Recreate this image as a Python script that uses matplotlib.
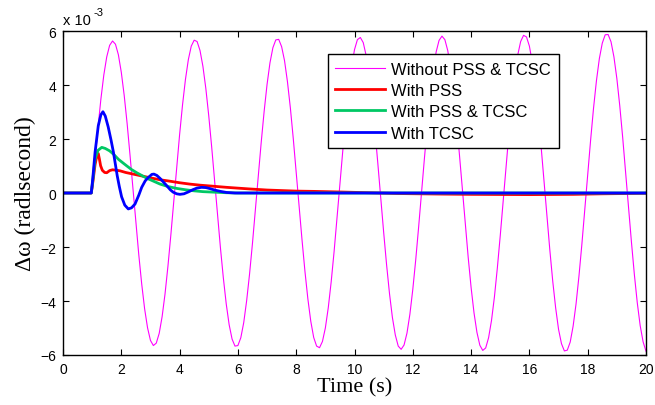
import matplotlib.pyplot as plt

'''
Speed deviation of the generator after a disturbance at t = 1 s
'''

# Without PSS & TCSC (sustained oscillation), read every 0.1 s from t = 1 s to 20 s
t_start, dt = 1.0, 0.1
dw_none = [0.0, 1.24, 2.42, 3.48, 4.37, 5.04, 5.47, 5.63, 5.51, 5.12,
           4.47, 3.61, 2.57, 1.39, 0.15, -1.09, -2.29, -3.37, -4.29, -4.99,
           -5.46, -5.65, -5.56, -5.20, -4.58, -3.74, -2.71, -1.55, -0.31, 0.95,
           2.16, 3.26, 4.20, 4.94, 5.44, 5.66, 5.61, 5.28, 4.69, 3.87,
           2.86, 1.71, 0.47, -0.80, -2.02, -3.14, -4.11, -4.88, -5.41, -5.67,
           -5.65, -5.36, -4.80, -3.99, -3.00, -1.86, -0.62, 0.64, 1.88, 3.02,
           4.02, 4.82, 5.38, 5.67, 5.69, 5.42, 4.90, 4.12, 3.15, 2.01,
           0.78, -0.49, -1.74, -2.90, -3.92, -4.75, -5.35, -5.67, -5.73, -5.50,
           -5.00, -4.25, -3.29, -2.17, -0.94, 0.33, 1.59, 2.78, 3.82, 4.68,
           5.31, 5.68, 5.76, 5.57, 5.09, 4.37, 3.43, 2.33, 1.10, -0.18,
           -1.45, -2.65, -3.72, -4.61, -5.26, -5.67, -5.79, -5.63, -5.19, -4.49,
           -3.57, -2.48, -1.26, 0.02, 1.30, 2.51, 3.61, 4.52, 5.22, 5.65,
           5.81, 5.68, 5.27, 4.60, 3.71, 2.63, 1.42, 0.14, -1.15, -2.38,
           -3.50, -4.44, -5.16, -5.64, -5.83, -5.74, -5.36, -4.72, -3.85, -2.78,
           -1.58, -0.30, 0.99, 2.24, 3.38, 4.35, 5.11, 5.61, 5.84, 5.78,
           5.44, 4.83, 3.98, 2.93, 1.74, 0.46, -0.84, -2.10, -3.26, -4.25,
           -5.05, -5.58, -5.85, -5.82, -5.52, -4.93, -4.11, -3.08, -1.90, -0.62,
           0.68, 1.96, 3.14, 4.16, 4.98, 5.55, 5.86, 5.87, 5.60, 5.04,
           4.24, 3.23, 2.06, 0.79, -0.52, -1.81, -3.01, -4.06, -4.91, -5.51,
           -5.86]

# With PSS
t_pss = [0.0, 0.97, 1.03, 1.10, 1.17, 1.21, 1.25, 1.29, 1.35, 1.43,
         1.50, 1.60, 1.70, 1.85, 1.96, 2.15, 2.41, 2.75, 3.05, 3.33,
         3.65, 4.00, 4.35, 4.70, 5.16, 5.61, 6.00, 6.40, 7.00, 7.50,
         8.00, 8.60, 9.40, 10.5, 11.5, 13.0, 14.0, 16.0, 17.5, 18.5, 20.0]
dw_pss = [0.0, 0.0, 0.45, 1.05, 1.42, 1.46, 1.25, 1.01, 0.84, 0.76,
          0.75, 0.83, 0.86, 0.84, 0.82, 0.76, 0.70, 0.62, 0.55, 0.49,
          0.44, 0.38, 0.33, 0.29, 0.25, 0.21, 0.18, 0.15, 0.11, 0.09,
          0.07, 0.06, 0.04, 0.01, -0.02, -0.04, -0.05, -0.06, -0.05, -0.03, -0.01]

# With PSS & TCSC
t_both = [0.0, 0.97, 1.02, 1.10, 1.20, 1.33, 1.45, 1.60, 1.73, 1.90,
          2.05, 2.18, 2.35, 2.53, 2.70, 2.87, 3.10, 3.33, 3.60, 3.90,
          4.20, 4.50, 4.80, 5.20, 5.60, 6.00, 20.0]
dw_both = [0.0, 0.0, 0.45, 1.26, 1.58, 1.69, 1.65, 1.56, 1.44, 1.25,
           1.12, 1.01, 0.87, 0.75, 0.65, 0.55, 0.44, 0.33, 0.24, 0.17,
           0.12, 0.08, 0.05, 0.03, 0.01, 0.0, 0.0]

# With TCSC
t_tcsc = [0.0, 0.97, 1.02, 1.10, 1.21, 1.30, 1.37, 1.45, 1.55, 1.65,
          1.73, 1.86, 1.93, 2.01, 2.12, 2.24, 2.35, 2.47, 2.60, 2.70,
          2.82, 2.93, 3.05, 3.12, 3.22, 3.33, 3.45, 3.56, 3.68, 3.78,
          3.90, 4.01, 4.15, 4.30, 4.45, 4.59, 4.75, 4.90, 5.05, 5.20,
          5.40, 5.61, 5.90, 20.0]
dw_tcsc = [0.0, 0.0, 0.52, 1.51, 2.49, 2.90, 3.01, 2.85, 2.45, 1.95,
           1.51, 0.64, 0.25, -0.14, -0.45, -0.59, -0.55, -0.41, -0.08, 0.21,
           0.45, 0.58, 0.69, 0.70, 0.65, 0.54, 0.40, 0.27, 0.12, 0.03,
           -0.03, -0.05, -0.03, 0.04, 0.12, 0.18, 0.21, 0.20, 0.16, 0.11,
           0.06, 0.02, 0.0, 0.0]

labels = ['Without PSS & TCSC', 'With PSS', 'With PSS & TCSC', 'With TCSC']

# undisturbed (zero) before the fault, then the sampled response
t_none = [0.0] + [t_start + i * dt for i in range(len(dw_none))]
dw_none = [0.0] + dw_none

fig = plt.figure(figsize=(6.55, 4.06), dpi=100)
ax = fig.add_axes([63/655, 1 - 356/406, 583/655, 324/406])

ax.plot(t_none, dw_none, color='#ff00ff', lw=0.8, label=labels[0])
ax.plot(t_pss, dw_pss, color='#ff0000', lw=2, label=labels[1])
ax.plot(t_both, dw_both, color='#00c864', lw=2, label=labels[2])
ax.plot(t_tcsc, dw_tcsc, color='#0000ff', lw=2, label=labels[3])

ax.set_xlim(0, 20)
ax.set_ylim(-6, 6)
ax.set_xticks(range(0, 21, 2))
ax.set_yticks(range(-6, 7, 2))
ax.tick_params(direction='in', top=True, right=True, length=4, width=0.8,
               labelsize=10, pad=5)
for lab in ax.get_xticklabels() + ax.get_yticklabels():
    lab.set_fontfamily('Liberation Sans')
for sp in ax.spines.values():
    sp.set_linewidth(1.0)

ax.set_xlabel('Time (s)', family='Liberation Serif', fontsize=16, labelpad=1)
ax.set_ylabel('\u0394\u03c9 (radlsecond)', family='Liberation Serif', fontsize=17, labelpad=3)

# the MATLAB style exponent above the y axis
fig.text(63/655, 1 - 25/406, 'x 10', family='Liberation Sans', fontsize=10.5)
fig.text(93/655, 1 - 16/406, '-3', family='Liberation Sans', fontsize=8)

leg = ax.legend(loc='upper left', bbox_to_anchor=(0.4545, 0.929), borderaxespad=0,
                prop={'family': 'Liberation Sans', 'size': 12},
                fancybox=False, framealpha=1, edgecolor='black',
                handlelength=3.0, handletextpad=0.35, labelspacing=0.38,
                borderpad=0.45)
leg.get_frame().set_linewidth(1.0)

fig.savefig('out.png', dpi=100)
